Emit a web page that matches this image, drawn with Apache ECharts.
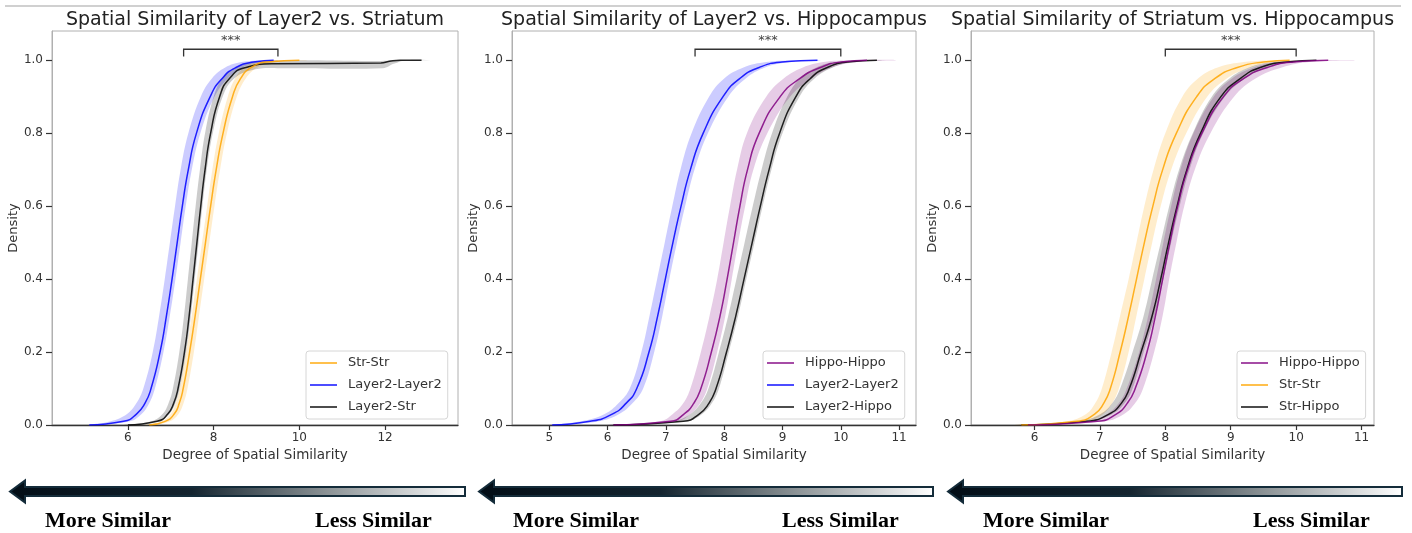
<!DOCTYPE html>
<html>
<head>
<meta charset="utf-8">
<script src="https://cdn.jsdelivr.net/npm/echarts@6/dist/echarts.min.js"></script>
<style>html,body{margin:0;padding:0;background:#fff}#c{width:1412px;height:533px}</style>
</head>
<body>
<div id="c"></div>
<script>
// ---------------- DATA ----------------
const TITLES = ['Spatial Similarity of Layer2 vs. Striatum', 'Spatial Similarity of Layer2 vs. Hippocampus', 'Spatial Similarity of Striatum vs. Hippocampus'];
const X_TICKS = [[6, 8, 10, 12], [5, 6, 7, 8, 9, 10, 11], [6, 7, 8, 9, 10, 11]];
const Y_TICKS = [0, 0.2, 0.4, 0.6, 0.8, 1.0];
const X_NAME = 'Degree of Spatial Similarity';
const Y_NAME = 'Density';
const LEGENDS = [['Str-Str', 'Layer2-Layer2', 'Layer2-Str'], ['Hippo-Hippo', 'Layer2-Layer2', 'Layer2-Hippo'], ['Hippo-Hippo', 'Str-Str', 'Str-Hippo']];
const BRACKET_X1 = [7.3, 7.5, 8];
const BRACKET_X2 = [9.5, 10, 10];
const BRACKET_TOP = 1.03, BRACKET_LEG = 1.01;
const STARS = '***';

// cumulative levels (density) shared by most curves
const Y_LEVELS = [0, 0.01, 0.03, 0.06, 0.1, 0.2, 0.3, 0.4, 0.5, 0.6, 0.7, 0.8, 0.9, 0.95, 0.98, 0.995, 1.0];

// Panel 1 : Layer2 vs Striatum
const p1_strstr_mid = [6.5, 6.87, 7.08, 7.2, 7.29, 7.44, 7.57, 7.69, 7.81, 7.93, 8.06, 8.22, 8.44, 8.63, 8.88, 9.25, 10.0];
const p1_strstr_lo  = [6.4, 6.78, 7.0, 7.12, 7.21, 7.36, 7.49, 7.61, 7.73, 7.85, 7.97, 8.12, 8.33, 8.5, 8.72, 9.05, 9.6];
const p1_strstr_hi  = [6.6, 6.98, 7.18, 7.3, 7.39, 7.54, 7.66, 7.78, 7.9, 8.02, 8.15, 8.31, 8.54, 8.75, 9.02, 9.45, 10.2];
const p1_l2l2_mid = [5.1, 5.9, 6.2, 6.4, 6.54, 6.75, 6.9, 7.03, 7.15, 7.27, 7.41, 7.6, 7.92, 8.2, 8.52, 8.93, 9.4];
const p1_l2l2_lo  = [5.08, 5.6, 5.98, 6.2, 6.36, 6.58, 6.73, 6.86, 6.98, 7.1, 7.23, 7.41, 7.7, 7.96, 8.27, 8.65, 9.2];
const p1_l2l2_hi  = [5.2, 6.05, 6.32, 6.5, 6.63, 6.83, 6.98, 7.11, 7.23, 7.35, 7.49, 7.69, 8.02, 8.33, 8.68, 9.1, 9.5];
// Layer2-Str has a plateau just under 1.0
const p1_l2str_y   = [0, 0.01, 0.03, 0.06, 0.1, 0.2, 0.3, 0.4, 0.5, 0.6, 0.7, 0.8, 0.9, 0.95, 0.98, 0.99, 0.992, 0.997, 1.0, 1.0];
const p1_l2str_mid = [6.0, 6.68, 6.93, 7.07, 7.17, 7.32, 7.43, 7.52, 7.61, 7.7, 7.8, 7.93, 8.14, 8.37, 8.75, 9.4, 11.9, 12.1, 12.35, 12.85];
const p1_l2str_yU  = [0, 0.01, 0.03, 0.06, 0.1, 0.2, 0.3, 0.4, 0.5, 0.6, 0.7, 0.8, 0.9, 0.95, 0.98, 0.997, 0.998, 0.999, 1.0, 1.0];
const p1_l2str_lo  = [5.9, 6.55, 6.81, 6.95, 7.05, 7.2, 7.31, 7.4, 7.49, 7.58, 7.68, 7.8, 8.0, 8.2, 8.52, 9.0, 11.9, 12.2, 12.5, 13.2];
const p1_l2str_yL  = [0, 0.01, 0.03, 0.06, 0.1, 0.2, 0.3, 0.4, 0.5, 0.6, 0.7, 0.8, 0.9, 0.95, 0.975, 0.978, 0.978, 0.99, 1.0, 1.0];
const p1_l2str_hi  = [6.1, 6.73, 6.97, 7.11, 7.21, 7.36, 7.47, 7.56, 7.65, 7.74, 7.84, 7.98, 8.21, 8.48, 8.98, 9.6, 11.95, 12.2, 12.5, 13.2];

// Panel 2 : Layer2 vs Hippocampus
const p2_hh_mid = [6.1, 7.08, 7.31, 7.48, 7.6, 7.78, 7.93, 8.05, 8.16, 8.27, 8.4, 8.6, 8.96, 9.3, 9.65, 10.0, 10.45];
const p2_hh_lo  = [6.0, 6.9, 7.12, 7.3, 7.42, 7.6, 7.75, 7.88, 7.99, 8.1, 8.22, 8.39, 8.72, 9.02, 9.35, 9.7, 10.2];
const p2_hh_hi  = [6.3, 7.2, 7.42, 7.59, 7.71, 7.88, 8.02, 8.13, 8.24, 8.36, 8.5, 8.74, 9.13, 9.5, 9.85, 10.3, 10.95];
const p2_l2l2_mid = [5.05, 5.7, 6.08, 6.32, 6.5, 6.71, 6.86, 6.99, 7.12, 7.26, 7.42, 7.64, 7.98, 8.27, 8.6, 8.99, 9.6];
const p2_l2l2_lo  = [5.0, 5.55, 5.95, 6.19, 6.38, 6.58, 6.72, 6.85, 6.98, 7.11, 7.25, 7.44, 7.74, 8.0, 8.33, 8.72, 9.3];
const p2_l2l2_hi  = [5.15, 5.85, 6.2, 6.43, 6.61, 6.8, 6.94, 7.06, 7.19, 7.33, 7.49, 7.72, 8.07, 8.37, 8.7, 9.12, 9.65];
const p2_l2h_mid = [6.1, 7.3, 7.57, 7.74, 7.86, 8.04, 8.2, 8.34, 8.48, 8.62, 8.77, 8.95, 9.23, 9.48, 9.77, 10.11, 10.62];
const p2_l2h_lo  = [6.0, 7.12, 7.42, 7.6, 7.73, 7.91, 8.07, 8.21, 8.35, 8.49, 8.64, 8.82, 9.08, 9.3, 9.58, 9.9, 10.5];
const p2_l2h_hi  = [6.2, 7.36, 7.62, 7.79, 7.91, 8.08, 8.24, 8.38, 8.52, 8.66, 8.81, 9.0, 9.29, 9.55, 9.86, 10.2, 10.7];

// Panel 3 : Striatum vs Hippocampus
const p3_hh_mid = [5.9, 6.96, 7.25, 7.42, 7.54, 7.72, 7.85, 7.96, 8.07, 8.19, 8.34, 8.56, 8.89, 9.2, 9.56, 9.96, 10.49];
const p3_hh_lo  = [5.8, 6.82, 7.11, 7.29, 7.41, 7.6, 7.74, 7.86, 7.97, 8.09, 8.23, 8.43, 8.74, 9.02, 9.35, 9.7, 10.2];
const p3_hh_hi  = [6.0, 7.08, 7.37, 7.54, 7.66, 7.83, 7.96, 8.06, 8.17, 8.29, 8.45, 8.69, 9.05, 9.38, 9.78, 10.2, 10.92];
const p3_strstr_mid = [5.8, 6.65, 6.92, 7.06, 7.16, 7.31, 7.44, 7.56, 7.68, 7.81, 7.96, 8.17, 8.48, 8.76, 9.1, 9.5, 9.9];
const p3_strstr_lo  = [5.7, 6.5, 6.79, 6.93, 7.03, 7.18, 7.31, 7.44, 7.56, 7.68, 7.82, 8.0, 8.26, 8.5, 8.8, 9.2, 9.7];
const p3_strstr_hi  = [5.9, 6.8, 7.05, 7.19, 7.29, 7.44, 7.56, 7.68, 7.8, 7.93, 8.09, 8.32, 8.64, 8.94, 9.3, 9.65, 10.0];
const p3_sh_mid = [5.8, 6.8, 7.14, 7.33, 7.45, 7.63, 7.8, 7.93, 8.05, 8.18, 8.33, 8.54, 8.85, 9.15, 9.45, 9.86, 10.31];
const p3_sh_lo  = [5.7, 6.68, 7.01, 7.19, 7.31, 7.5, 7.67, 7.8, 7.93, 8.06, 8.21, 8.42, 8.71, 8.98, 9.28, 9.65, 10.2];
const p3_sh_hi  = [5.9, 6.86, 7.19, 7.38, 7.5, 7.67, 7.84, 7.97, 8.09, 8.22, 8.37, 8.58, 8.91, 9.22, 9.55, 9.95, 10.4];

// ---------------- STYLE / LAYOUT ----------------
const COLORS = {'Str-Str': [255, 165, 0], 'Layer2-Layer2': [0, 0, 255], 'Hippo-Hippo': [128, 0, 128], 'Layer2-Str': [0, 0, 0], 'Layer2-Hippo': [0, 0, 0], 'Str-Hippo': [0, 0, 0]};
const rgba = (c, a) => 'rgba(' + c[0] + ',' + c[1] + ',' + c[2] + ',' + a + ')';
const FONT = 'DejaVu Sans';

const PANELS = [
  {left: 52, width: 406, xMin: 4.23, xMax: 13.7, legendLeft: 306, curves: [
    {name: 'Str-Str', y: Y_LEVELS, mid: p1_strstr_mid, yU: Y_LEVELS, lo: p1_strstr_lo, yL: Y_LEVELS, hi: p1_strstr_hi},
    {name: 'Layer2-Layer2', y: Y_LEVELS, mid: p1_l2l2_mid, yU: Y_LEVELS, lo: p1_l2l2_lo, yL: Y_LEVELS, hi: p1_l2l2_hi},
    {name: 'Layer2-Str', y: p1_l2str_y, mid: p1_l2str_mid, yU: p1_l2str_yU, lo: p1_l2str_lo, yL: p1_l2str_yL, hi: p1_l2str_hi}]},
  {left: 512, width: 404, xMin: 4.36, xMax: 11.29, legendLeft: 763, curves: [
    {name: 'Hippo-Hippo', y: Y_LEVELS, mid: p2_hh_mid, yU: Y_LEVELS, lo: p2_hh_lo, yL: Y_LEVELS, hi: p2_hh_hi},
    {name: 'Layer2-Layer2', y: Y_LEVELS, mid: p2_l2l2_mid, yU: Y_LEVELS, lo: p2_l2l2_lo, yL: Y_LEVELS, hi: p2_l2l2_hi},
    {name: 'Layer2-Hippo', y: Y_LEVELS, mid: p2_l2h_mid, yU: Y_LEVELS, lo: p2_l2h_lo, yL: Y_LEVELS, hi: p2_l2h_hi}]},
  {left: 971, width: 403, xMin: 5.03, xMax: 11.19, legendLeft: 1237, curves: [
    {name: 'Hippo-Hippo', y: Y_LEVELS, mid: p3_hh_mid, yU: Y_LEVELS, lo: p3_hh_lo, yL: Y_LEVELS, hi: p3_hh_hi},
    {name: 'Str-Str', y: Y_LEVELS, mid: p3_strstr_mid, yU: Y_LEVELS, lo: p3_strstr_lo, yL: Y_LEVELS, hi: p3_strstr_hi},
    {name: 'Str-Hippo', y: Y_LEVELS, mid: p3_sh_mid, yU: Y_LEVELS, lo: p3_sh_lo, yL: Y_LEVELS, hi: p3_sh_hi}]}
];
const GRID_TOP = 31, GRID_H = 394;

const grids = [], xAxes = [], yAxes = [], series = [], titles = [], legends = [], graphics = [];

PANELS.forEach((p, pi) => {
  grids.push({left: p.left, width: p.width, top: GRID_TOP, height: GRID_H, show: true, borderColor: '#b0b0b0', borderWidth: 1, containLabel: false, outerBoundsMode: 'none'});
  xAxes.push({
    type: 'value', gridIndex: pi, min: p.xMin, max: p.xMax,
    axisLine: {show: true, onZero: false, lineStyle: {color: '#333', width: 1.3}},
    axisTick: {show: true, length: 5, customValues: X_TICKS[pi], lineStyle: {color: '#333', width: 1.2}},
    axisLabel: {customValues: X_TICKS[pi], fontSize: 12, color: '#333', margin: 7, fontFamily: FONT, formatter: v => String(v)},
    splitLine: {show: false},
    name: X_NAME, nameLocation: 'middle', nameGap: 23,
    nameTextStyle: {fontSize: 13.5, color: '#333', fontFamily: FONT}
  });
  yAxes.push({
    type: 'value', gridIndex: pi, min: 0, max: 1.08,
    axisLine: {show: true, lineStyle: {color: '#b0b0b0', width: 1}},
    axisTick: {show: true, length: 6, customValues: Y_TICKS, lineStyle: {color: '#333', width: 1.2}},
    axisLabel: {customValues: Y_TICKS, fontSize: 12, color: '#333', margin: 9, fontFamily: FONT, formatter: v => v.toFixed(1)},
    splitLine: {show: false},
    name: Y_NAME, nameLocation: 'middle', nameGap: 31,
    nameTextStyle: {fontSize: 13, color: '#333', fontFamily: FONT}
  });
  titles.push({text: TITLES[pi], left: p.left + p.width / 2 - 5, top: 6, textAlign: 'center',
    textStyle: {fontSize: 19, fontWeight: 'normal', color: '#222', fontFamily: FONT}});

  p.curves.forEach((c, ci) => {
    const col = COLORS[c.name];
    series.push({
      type: 'custom', name: 'band-' + pi + '-' + ci, xAxisIndex: pi, yAxisIndex: pi, z: 1, silent: true,
      data: [[c.mid[8], 0.5]],
      renderItem: (params, api) => {
        const up = c.lo.map((x, i) => api.coord([x, c.yU[i]]));
        const dn = c.hi.map((x, i) => api.coord([x, c.yL[i]])).reverse();
        return {type: 'polygon', shape: {points: up.concat(dn), smooth: 0.4}, style: {fill: rgba(col, 0.2), stroke: 'none'}};
      }
    });
    series.push({
      type: 'line', name: c.name, xAxisIndex: pi, yAxisIndex: pi, z: 3 + (2 - ci),
      data: c.mid.map((x, i) => [x, c.y[i]]),
      showSymbol: false, symbol: 'none', smooth: 0.55, silent: true,
      lineStyle: {color: rgba(col, 0.85), width: 1.5}, itemStyle: {color: rgba(col, 0.7)}
    });
  });

  // significance bracket
  series.push({
    type: 'custom', name: 'bracket-' + pi, xAxisIndex: pi, yAxisIndex: pi, z: 5, silent: true,
    data: [[BRACKET_X1[pi], BRACKET_X2[pi]]],
    renderItem: (params, api) => {
      const a = api.coord([BRACKET_X1[pi], BRACKET_LEG]);
      const b = api.coord([BRACKET_X1[pi], BRACKET_TOP]);
      const c2 = api.coord([BRACKET_X2[pi], BRACKET_TOP]);
      const d = api.coord([BRACKET_X2[pi], BRACKET_LEG]);
      return {type: 'group', children: [
        {type: 'polyline', shape: {points: [a, b, c2, d]}, style: {stroke: '#333', lineWidth: 1.3, fill: 'none'}},
        {type: 'text', style: {text: STARS, x: (b[0] + c2[0]) / 2, y: b[1] - 2, textAlign: 'center', textVerticalAlign: 'bottom', font: '13px "DejaVu Sans"', fill: '#444'}}
      ]};
    }
  });

  legends.push({
    show: true, orient: 'vertical', left: p.legendLeft, top: 351, selectedMode: false,
    icon: 'rect', itemWidth: 27, itemHeight: 2, itemGap: 6,
    padding: [4, 6, 4, 4], borderColor: '#d6d6d6', borderWidth: 1, borderRadius: 3,
    backgroundColor: 'rgba(255,255,255,0.85)',
    textStyle: {fontSize: 13, color: '#333', fontFamily: FONT, lineHeight: 16, padding: [0, 0, 0, 6]},
    data: LEGENDS[pi].map(n => ({name: n, itemStyle: {color: rgba(COLORS[n], 0.7)}}))
  });
});

// arrows and labels below panels
const ARROWS = [{tip: 10, tail: 465, more: 45, less: 315}, {tip: 479, tail: 933, more: 513, less: 782}, {tip: 948, tail: 1402, more: 983, less: 1253}];
const MORE_TXT = 'More Similar', LESS_TXT = 'Less Similar';
ARROWS.forEach(a => {
  const cy = 491.5;
  graphics.push({
    type: 'polygon', silent: true,
    shape: {points: [[a.tip, cy], [a.tip + 15, cy - 11], [a.tip + 15, cy - 4.5], [a.tail, cy - 4.5], [a.tail, cy + 4.5], [a.tip + 15, cy + 4.5], [a.tip + 15, cy + 11]]},
    style: {
      fill: new echarts.graphic.LinearGradient(0, 0, 1, 0, [
        {offset: 0, color: '#020d16'}, {offset: 0.4, color: '#14242f'}, {offset: 0.7, color: '#8d9497'}, {offset: 1, color: '#ffffff'}]),
      stroke: '#142c3a', lineWidth: 2
    }
  });
  graphics.push({type: 'text', silent: true, style: {text: MORE_TXT, x: a.more, y: 521, textVerticalAlign: 'middle', font: 'bold 22px "Liberation Serif"', fill: '#000'}});
  graphics.push({type: 'text', silent: true, style: {text: LESS_TXT, x: a.less, y: 521, textVerticalAlign: 'middle', font: 'bold 22px "Liberation Serif"', fill: '#000'}});
});
graphics.push({type: 'line', silent: true, shape: {x1: 5, y1: 6, x2: 1401, y2: 6}, style: {stroke: '#d0d0d0', lineWidth: 2}});

const chart = echarts.init(document.getElementById('c'), null, {renderer: 'canvas'});
chart.setOption({
  animation: false,
  backgroundColor: '#fff',
  title: titles,
  grid: grids,
  xAxis: xAxes,
  yAxis: yAxes,
  legend: legends,
  series: series,
  graphic: graphics
});
</script>
</body>
</html>
